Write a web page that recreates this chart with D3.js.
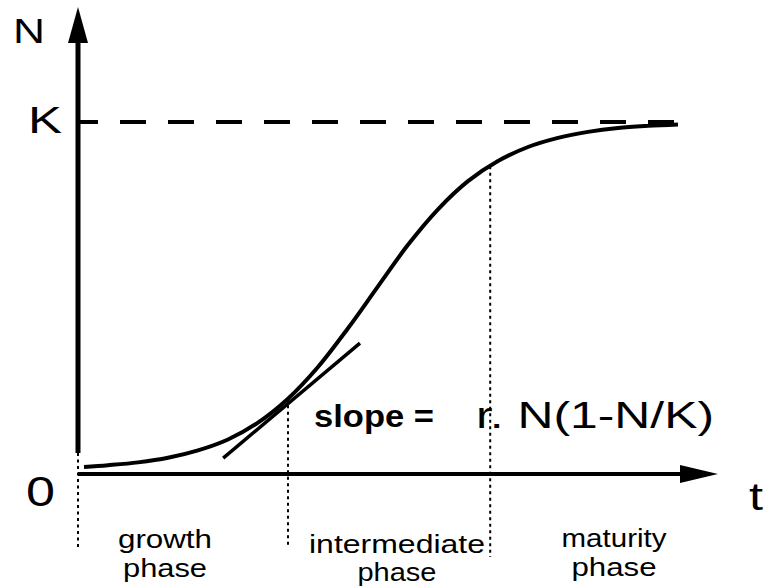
<!DOCTYPE html>
<html>
<head>
<meta charset="utf-8">
<script src="https://cdn.jsdelivr.net/npm/d3@7"></script>
<style>
  body { margin: 0; background: #fff; }
  svg { display: block; font-family: "Liberation Sans", Arial, sans-serif; }
</style>
</head>
<body>
<div id="chart"></div>
<script>
// logistic growth curve (K = 100)
const tValues = [1, 5, 10, 15, 20, 25, 30, 35, 40, 45, 50, 55, 60, 65, 70, 75, 80, 85, 90, 95, 100]
const nValues = [2.0, 2.5, 3.3, 4.6, 6.7, 9.8, 14.6, 21.4, 30.4, 41.4, 53.3, 65.1, 75.2, 83.2, 88.9, 92.9, 95.5, 97.2, 98.3, 98.9, 99.3]
const K = 100

// tangent drawn at the end of the growth phase
const tangentT = [24.2, 47]
const tangentN = [4.5, 37.2]

// phase boundaries (t) and their labels
const phaseBounds = [0, 35, 68.7]
const phaseLabels = [["growth", "phase"], ["intermediate", "phase"], ["maturity", "phase"]]

const width = 766
const height = 588

const svg = d3.select("#chart")
    .append("svg")
    .attr("width", width)
    .attr("height", height)

const x = d3.scaleLinear().domain([0, 100]).range([78, 678])
const y = d3.scaleLinear().domain([0, K]).range([474, 122])

// K dashed line
svg.append("line")
    .attr("x1", 80).attr("x2", x(100))
    .attr("y1", y(K)).attr("y2", y(K))
    .attr("stroke", "#000")
    .attr("stroke-width", 4)
    .attr("stroke-dasharray", "26,22")
    .attr("stroke-dashoffset", 8)

// dotted phase boundaries
const curveAt = d3.scaleLinear().domain(tValues).range(nValues)
const dropBottom = [547, 548, 557]
phaseBounds.forEach((b, i) => {
  const top = i == 0 ? 453 : y(curveAt(b))
  svg.append("line")
      .attr("x1", x(b)).attr("x2", x(b))
      .attr("y1", top).attr("y2", dropBottom[i])
      .attr("stroke", "#000")
      .attr("stroke-width", 2)
      .attr("stroke-dasharray", "3,3.5")
})

// y axis
svg.append("line")
    .attr("x1", x(0)).attr("x2", x(0))
    .attr("y1", 453).attr("y2", 40)
    .attr("stroke", "#000")
    .attr("stroke-width", 5)
svg.append("path")
    .attr("d", `M${x(0)},7 L${x(0) - 10},43 L${x(0) + 10},43 Z`)
    .attr("fill", "#000")

// x axis
svg.append("line")
    .attr("x1", x(0)).attr("x2", 684)
    .attr("y1", y(0)).attr("y2", y(0))
    .attr("stroke", "#000")
    .attr("stroke-width", 4)
svg.append("path")
    .attr("d", `M718,${y(0)} L680,${y(0) - 9} L680,${y(0) + 9} Z`)
    .attr("fill", "#000")

// curve
const line = d3.line()
    .x(d => x(d[0]))
    .y(d => y(d[1]))
    .curve(d3.curveCatmullRom)

svg.append("path")
    .datum(tValues.map((t, i) => [t, nValues[i]]))
    .attr("d", line)
    .attr("fill", "none")
    .attr("stroke", "#000")
    .attr("stroke-width", 4)

// tangent
svg.append("path")
    .datum(tangentT.map((t, i) => [t, tangentN[i]]))
    .attr("d", d3.line().x(d => x(d[0])).y(d => y(d[1])))
    .attr("stroke", "#000")
    .attr("stroke-width", 3.5)

// texts are stretched sideways like the original
function label(txt, px, py, size, len, weight, anchor) {
  svg.append("text")
      .attr("x", px).attr("y", py)
      .attr("font-size", size)
      .attr("font-weight", weight || "normal")
      .attr("text-anchor", anchor || "start")
      .attr("textLength", len)
      .attr("lengthAdjust", "spacingAndGlyphs")
      .text(txt)
}
label("N", 13, 43, 35, 32)
label("K", 28, 133, 36, 34)
label("0", 26, 506, 42, 29)
label("t", 749, 510, 38, 14)

label("slope =", 314, 427, 32, 120, "bold")
label("r. N(1-N/K)", 476, 428, 36, 238)

// phase labels
const labelX = [165, 397, 614]
const labelY = [[548, 577], [553, 581], [547, 576]]
const labelW = [[94, 84], [176, 79], [105, 85]]
phaseLabels.forEach((lines, i) => {
  lines.forEach((s, j) => {
    label(s, labelX[i], labelY[i][j], 25, labelW[i][j], "normal", "middle")
  })
})
</script>
</body>
</html>
